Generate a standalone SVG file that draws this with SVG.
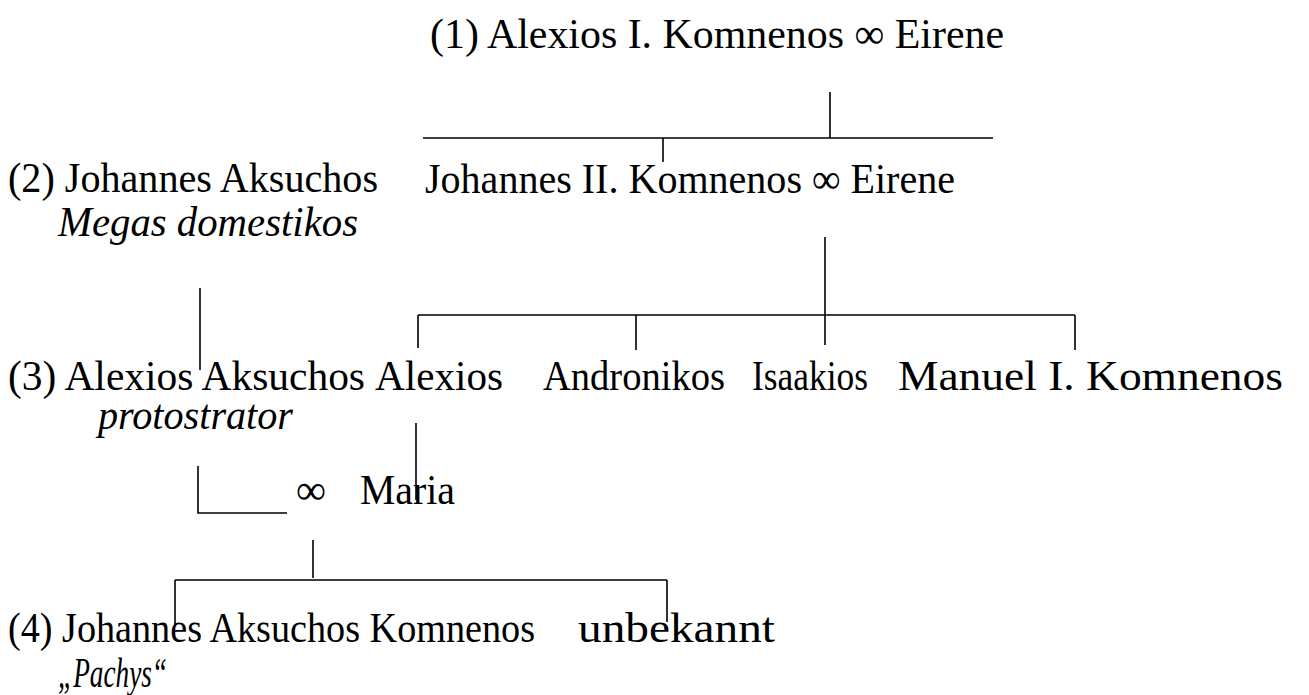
<svg xmlns="http://www.w3.org/2000/svg" width="1309" height="695" viewBox="0 0 1309 695">
<style>
text{font-family:"Liberation Serif","Times New Roman",serif;font-size:42px;fill:#000}
.it{font-style:italic}
.ln{stroke:#000;stroke-width:1.6;fill:none}
</style>
<rect width="1309" height="695" fill="#fff"/>
<g id="connectors" class="ln">
<path d="M830 92V138M423 138H993M663 138V162"/>
<path d="M825 237V345M418 315H1075M418 315V348M636 315V350M1075 315V350"/>
<path d="M200 288V370"/>
<path d="M416 423V500"/>
<path d="M198 466V513H287"/>
<path d="M313 540V578M175 580H667M175 580V625M667 580V622"/>
</g>
<g id="n1"><text x="430" y="48" textLength="574" lengthAdjust="spacingAndGlyphs">(1) Alexios I. Komnenos ∞ Eirene</text></g>
<g id="n2"><text x="8" y="192" textLength="370" lengthAdjust="spacingAndGlyphs">(2) Johannes Aksuchos</text><text class="it" x="58" y="236" textLength="300" lengthAdjust="spacingAndGlyphs">Megas domestikos</text></g>
<g id="n3"><text x="425" y="193" textLength="530" lengthAdjust="spacingAndGlyphs">Johannes II. Komnenos ∞ Eirene</text></g>
<g id="n4"><text x="8" y="390" textLength="357" lengthAdjust="spacingAndGlyphs">(3) Alexios Aksuchos</text><text class="it" x="98" y="429" textLength="195" lengthAdjust="spacingAndGlyphs">protostrator</text></g>
<g id="n5"><text x="375" y="390" textLength="128" lengthAdjust="spacingAndGlyphs">Alexios</text></g>
<g id="n6"><text x="543" y="390" textLength="182" lengthAdjust="spacingAndGlyphs">Andronikos</text></g>
<g id="n7"><text x="752" y="390" textLength="116" lengthAdjust="spacingAndGlyphs">Isaakios</text></g>
<g id="n8"><text x="898" y="390" textLength="385" lengthAdjust="spacingAndGlyphs">Manuel I. Komnenos</text></g>
<g id="n9"><text x="296" y="504" textLength="30" lengthAdjust="spacingAndGlyphs">∞</text><text x="360" y="504" textLength="95" lengthAdjust="spacingAndGlyphs">Maria</text></g>
<g id="n10"><text x="8" y="642" textLength="527" lengthAdjust="spacingAndGlyphs">(4) Johannes Aksuchos Komnenos</text><text class="it" x="58" y="687" textLength="109" lengthAdjust="spacingAndGlyphs">„Pachys“</text></g>
<g id="n11"><text x="578" y="642" textLength="197" lengthAdjust="spacingAndGlyphs">unbekannt</text></g>
</svg>
